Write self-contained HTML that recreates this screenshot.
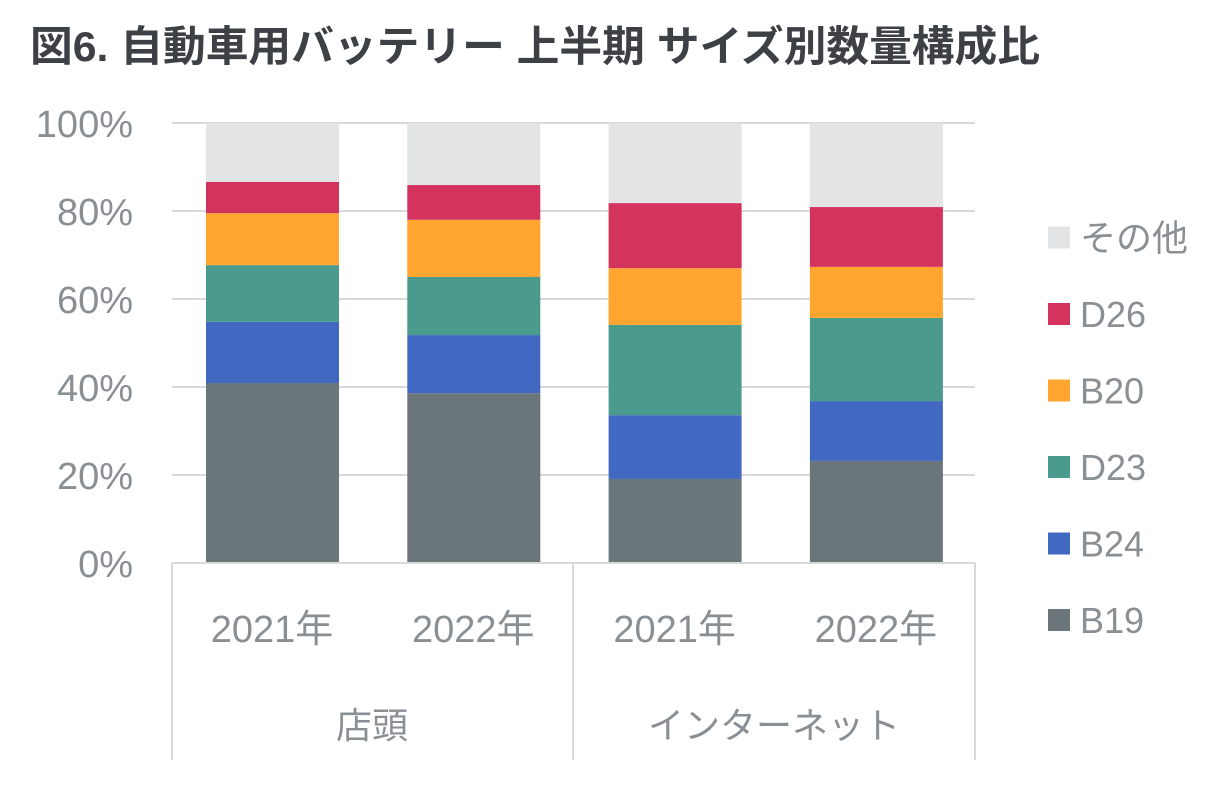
<!DOCTYPE html>
<html><head><meta charset="utf-8"><style>
body{margin:0;background:#fff;width:1232px;height:783px;overflow:hidden;font-family:"Liberation Sans","Noto Sans CJK JP",sans-serif;}
</style></head><body>
<svg width="1232" height="783" xmlns="http://www.w3.org/2000/svg">
<text x="30" y="61" font-size="42" font-weight="bold" fill="#3d4145" textLength="1010" lengthAdjust="spacingAndGlyphs" font-family="'Liberation Sans','Noto Sans CJK JP',sans-serif">図6. 自動車用バッテリー 上半期 サイズ別数量構成比</text>
<g id="grid"></g><g id="bars"></g><g id="axes"></g><g id="legend"></g>
</svg>
<script>
const NS="http://www.w3.org/2000/svg";
const yTicks=[0,20,40,60,80,100];
const series=["B19","B24","D23","B20","D26","その他"];
const colors=["#6b767b","#4169c1","#4a9a8e","#ffa530","#d4335e","#e3e4e6"];
const years=["2021年","2022年","2021年","2022年"];
const groups=["店頭","インターネット"];
const B19=[40.9,38.6,19.1,23.2];
const B24=[13.9,13.2,14.5,13.6];
const D23=[12.9,13.2,20.5,18.9];
const B20=[11.8,13.0,12.9,11.6];
const D26=[7.1,7.9,14.8,13.6];
const OTH=[13.4,14.1,18.2,19.1];
const vals=[B19,B24,D23,B20,D26,OTH];
const y=v=>563-v*4.4;
const bx=i=>206+i*201.3;
function mk(t,a,p){const e=document.createElementNS(NS,t);for(const k in a)e.setAttribute(k,a[k]);p.appendChild(e);return e;}
const grid=document.getElementById('grid');
yTicks.forEach(t=>{
 if(t>0){const l=mk('line',{x1:172,x2:975,y1:y(t),y2:y(t),stroke:'#d9d9d9','stroke-width':2},grid);
 
 }
 const tx=mk('text',{x:133,y:y(t)+14,'font-size':38,fill:'#8a8f94','text-anchor':'end'},grid);
 tx.textContent=t+'%';
 
 
});
const bars=document.getElementById('bars');
years.forEach((yr,i)=>{
 let c=0;
 vals.forEach((s,j)=>{
  const r=mk('rect',{x:bx(i),width:133,y:y(c+s[i]),height:s[i]*4.4,fill:colors[j]},bars);
  
  
  c+=s[i];
 });
 const t=mk('text',{x:bx(i)+66,y:642,'font-size':38,fill:'#8a8f94','text-anchor':'middle'},bars);
 t.textContent=yr;
 
 
});
const ax=document.getElementById('axes');
mk('line',{x1:172,x2:975,y1:563,y2:563,stroke:'#d9d9d9','stroke-width':2},ax);
[172,573,975].forEach(x=>mk('line',{x1:x,x2:x,y1:563,y2:760,stroke:'#d9d9d9','stroke-width':2},ax));
groups.forEach((g,i)=>{
 const t=mk('text',{x:i?774:372,y:738,'font-size':36,fill:'#8a8f94','text-anchor':'middle'},ax);
 t.textContent=g;
 
 
});
const lg=document.getElementById('legend');
series.forEach((s,j)=>{
 const yy=620-j*76.5;
 const r=mk('rect',{x:1048,y:yy-11,width:22,height:22,fill:colors[j]},lg);
 
 
 const t=mk('text',{x:1080,y:yy+13,'font-size':36,fill:'#8a8f94'},lg);
 t.textContent=s;
 
 
});
</script>
</body></html>
